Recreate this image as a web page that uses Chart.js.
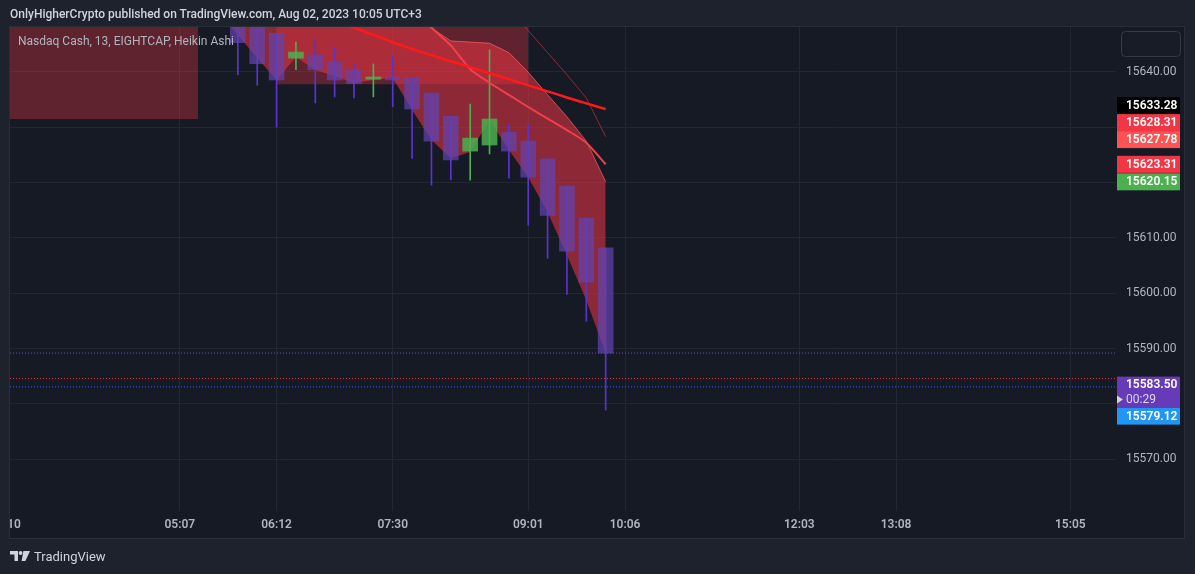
<!DOCTYPE html>
<html>
<head>
<meta charset="utf-8">
<script src="https://cdn.jsdelivr.net/npm/chart.js@4.4.1/dist/chart.umd.min.js"></script>
<style>
  html, body { margin: 0; padding: 0; background: #1e222d; overflow: hidden; }
  #wrap { position: relative; width: 1195px; height: 574px; }
  #c { position: absolute; left: 0; top: 0; }
  .txt { position: absolute; white-space: nowrap; font-family: Roboto, "Liberation Sans", sans-serif; z-index: 2; }
  #title { left: 10px; top: 7px; font-size: 12px; font-weight: 500; color: #d1d4dc; }
  #legend { left: 18px; top: 34px; font-size: 12px; color: #b2b5be; }
  #footer { left: 10px; top: 549px; font-size: 13px; color: #d1d4dc; display: flex; align-items: center; gap: 4px; }
</style>
</head>
<body>
<div id="wrap">
  <canvas id="c" width="1195" height="574"></canvas>
  <div class="txt" id="title">OnlyHigherCrypto published on TradingView.com, Aug 02, 2023 10:05 UTC+3</div>
  <div class="txt" id="legend">Nasdaq Cash, 13, EIGHTCAP, Heikin Ashi</div>
  <div class="txt" id="footer">
    <svg width="20" height="11" viewBox="0 0 20 11">
      <path d="M0 0h8v10H4.5V3.4H0z" fill="#d1d4dc"/>
      <circle cx="10.6" cy="2" r="1.9" fill="#d1d4dc"/>
      <path d="M13.4 0H20l-4.6 10h-3.8z" fill="#d1d4dc"/>
    </svg>
    <span>TradingView</span>
  </div>
</div>
<script>
// bars are counted in 13-minute steps, bar 0 = 05:07
var barIdx   = [3, 4, 5, 6, 7, 8, 9, 10, 11, 12, 13, 14, 15, 16, 17, 18, 19, 20, 21, 22];
var haOpen   = [15652, 15649, 15647, 15642.5, 15643.1, 15641.8, 15640.4, 15638.7, 15639.1, 15638.9, 15636.2, 15632.0, 15625.7, 15626.8, 15629.1, 15627.5, 15624.3, 15619.4, 15613.6, 15608.2];
var haHigh   = [15652, 15649, 15647, 15645.4, 15645.8, 15644.5, 15641.45, 15641.45, 15642.9, 15638.9, 15636.2, 15632.0, 15634.2, 15644.0, 15630.6, 15630.6, 15624.3, 15619.4, 15613.6, 15608.2];
var haLow    = [15639.5, 15637.6, 15630.05, 15640.4, 15634.4, 15635.5, 15635.3, 15635.5, 15633.7, 15624.4, 15619.55, 15620.5, 15620.45, 15625.2, 15620.8, 15612.3, 15606.3, 15599.8, 15594.95, 15578.9];
var haClose  = [15645.3, 15641.5, 15638.55, 15643.6, 15640.4, 15638.55, 15637.9, 15639.1, 15638.55, 15633.3, 15627.5, 15624.1, 15628.05, 15631.5, 15625.7, 15621.0, 15614.1, 15607.6, 15602.0, 15589.2];

var timeIdx    = [-9, 0, 5, 11, 18, 23, 32, 37, 46];
var timeLabels = ['03:10', '05:07', '06:12', '07:30', '09:01', '10:06', '12:03', '13:08', '15:05'];
var priceTicks = [15640, 15630, 15620, 15610, 15600, 15590, 15580, 15570];

var bandIdx   = [2, 3, 4, 5, 6, 7, 8, 9, 10, 11, 12, 13, 14, 15, 16, 17, 18, 19, 20, 21, 22];
var bandUpper = [15656, 15656, 15656, 15656, 15656, 15656, 15656, 15656, 15656, 15656, 15656, 15647.96, 15645.6, 15645.4, 15645.2, 15643.5, 15639.95, 15635.9, 15631.9, 15627.5, 15620.15];
var bandLower = [15650.86, 15646.7, 15642.53, 15638.55, 15642.71, 15640.36, 15639.28, 15638.01, 15638.55, 15638.91, 15633.12, 15627.69, 15624.43, 15625.52, 15631.31, 15625.88, 15620.99, 15614.66, 15606.88, 15598.73, 15589.2];

var slowIdx  = [8, 9, 10, 11, 12, 13, 14, 15, 16, 17, 18, 19, 20, 21, 22];
var slowMA   = [15649.3, 15648.02, 15646.7, 15645.38, 15644.16, 15643.02, 15641.94, 15640.87, 15639.78, 15638.7, 15637.59, 15636.49, 15635.4, 15634.32, 15633.28];
var fastIdx  = [12, 13, 14, 15, 16, 17, 18, 19, 20, 21, 22];
var fastMA   = [15651.9, 15648.04, 15644.8, 15640.51, 15638.06, 15635.85, 15633.67, 15631.56, 15629.5, 15627.23, 15623.31];
var outerIdx = [17, 18, 19, 20, 21, 22];
var outerLine = [15651.4, 15647.47, 15643.5, 15639.5, 15635.3, 15628.31];

var zoneFrom   = [-9, 5];
var zoneTo     = [0.95, 18];
var zoneBottom = [15631.5, 15637.8];

var levelValues = [15589.2, 15584.6, 15583.1];
var levelColors = ['#6a4cc4', '#f23645', '#2962ff'];

var tagValues = [15633.28, 15628.31, 15627.78, 15623.31, 15620.15, 15583.50, 15579.12];
var tagColors = ['#000000', '#f23645', '#ff5252', '#f23645', '#4caf50', '#673ab7', '#2196f3'];
var lastPrice = 15583.50;
var countdown = '00:29';

var xMin = -8.77, xMax = 48.36, yMin = 15560.66, yMax = 15648.13;

function pts(xs, ys) {
    return xs.map(function (x, k) { return { x: x, y: ys[k] }; });
}

var up = barIdx.map(function (x, k) { return haClose[k] >= haOpen[k]; });

var datasets = [];

// supply zones
zoneFrom.forEach(function (f, k) {
    datasets.push({
        type: 'line', data: [{ x: f, y: zoneBottom[k] }, { x: zoneTo[k], y: zoneBottom[k] }],
        fill: 'end', backgroundColor: 'rgba(242,54,69,0.33)', borderWidth: 0,
        pointRadius: 0, order: 10, clip: 0
    });
});

// band fill (upper -> lower)
datasets.push({
    type: 'line', data: pts(bandIdx, bandUpper), fill: '+1',
    backgroundColor: 'rgba(236,52,68,0.56)', borderColor: 'rgba(255,95,100,0.7)', borderWidth: 1,
    pointRadius: 0, tension: 0, order: 9, clip: 0
});
datasets.push({
    type: 'line', data: pts(bandIdx, bandLower), fill: false,
    borderWidth: 0, pointRadius: 0, order: 9, clip: 0
});

// dotted levels
levelValues.forEach(function (v, k) {
    datasets.push({
        type: 'line', data: [{ x: xMin, y: v }, { x: xMax, y: v }],
        borderColor: levelColors[k], borderWidth: 1, borderDash: [1, 2],
        pointRadius: 0, fill: false, order: 8, clip: 0
    });
});

// wicks
datasets.push({
    type: 'bar', data: barIdx.map(function (x, k) { return { x: x, y: [haLow[k], haHigh[k]] }; }),
    backgroundColor: up.map(function (u) { return u ? '#4caf50' : '#5b34d0'; }),
    barThickness: 1, grouped: false, order: 5, clip: 0
});
// bodies
datasets.push({
    type: 'bar', data: barIdx.map(function (x, k) { return { x: x, y: [haOpen[k], haClose[k]] }; }),
    backgroundColor: up.map(function (u) { return u ? 'rgba(76,175,80,0.85)' : 'rgba(98,67,177,0.7)'; }),
    barThickness: 15, minBarLength: 2, grouped: false, order: 4, clip: 0
});

datasets.push({
    type: 'line', data: pts(outerIdx, outerLine), borderColor: 'rgba(242,54,69,0.55)', borderWidth: 1,
    pointRadius: 0, fill: false, order: 3, clip: 0
});
datasets.push({
    type: 'line', data: pts(fastIdx, fastMA), borderColor: '#f23f4b', borderWidth: 2,
    pointRadius: 0, fill: false, tension: 0.2, order: 2, clip: 0
});
datasets.push({
    type: 'line', data: pts(slowIdx, slowMA), borderColor: '#ff1a1a', borderWidth: 2.5,
    pointRadius: 0, fill: false, tension: 0.2, order: 1, clip: 0
});

var chrome = {
    id: 'chrome',
    beforeDraw: function (chart) {
        var ctx = chart.ctx, a = chart.chartArea;
        var right = chart.scales.y.right, bottom = chart.scales.x.bottom;
        ctx.save();
        ctx.fillStyle = '#1e222d';
        ctx.fillRect(0, 0, chart.width, chart.height);
        ctx.fillStyle = '#161a25';
        ctx.fillRect(a.left, a.top, right - a.left, bottom - a.top);
        ctx.strokeStyle = '#2a2e39';
        ctx.lineWidth = 1;
        ctx.strokeRect(a.left - 0.5, a.top - 0.5, right - a.left + 1, bottom - a.top + 1);
        ctx.restore();
    },
    afterDraw: function (chart) {
        var ctx = chart.ctx, a = chart.chartArea;
        var ys = chart.scales.y, xs = chart.scales.x;
        ctx.save();

        // time labels left of the visible range, cut at the pane edge
        ctx.beginPath();
        ctx.rect(a.left, xs.top, a.right - a.left, xs.bottom - xs.top);
        ctx.clip();
        ctx.font = '600 12px Roboto';
        ctx.fillStyle = '#b2b5be';
        ctx.textAlign = 'center';
        ctx.textBaseline = 'middle';
        timeIdx.forEach(function (v, k) {
            if (v < xMin) ctx.fillText(timeLabels[k], xs.getPixelForValue(v), xs.top + 13.5);
        });
        ctx.restore();

        // price tags
        var tx = ys.left + 1, tw = 63, th = 17;
        var boxes = tagValues.map(function (v, k) {
            var cy = ys.getPixelForValue(v);
            if (v === lastPrice) return { v: v, k: k, top: cy - 8, h: 31, last: true };
            return { v: v, k: k, top: cy - th / 2, h: th };
        });
        var anchor = boxes.filter(function (b) { return b.last; })[0];
        var above = boxes.filter(function (b) { return b.v > lastPrice; }).sort(function (p, q) { return p.v - q.v; });
        var below = boxes.filter(function (b) { return b.v < lastPrice; }).sort(function (p, q) { return q.v - p.v; });
        var lim = anchor.top;
        above.forEach(function (b) {
            if (b.top + b.h > lim) b.top = lim - b.h;
            lim = b.top;
        });
        lim = anchor.top + anchor.h;
        below.forEach(function (b) {
            if (b.top < lim) b.top = lim;
            lim = b.top + b.h;
        });
        ctx.save();
        ctx.textBaseline = 'middle';
        ctx.textAlign = 'left';
        boxes.forEach(function (b) {
            ctx.fillStyle = tagColors[b.k];
            ctx.fillRect(tx, b.top, tw, b.h);
            ctx.fillStyle = '#ffffff';
            ctx.font = '600 12px Roboto';
            if (b.last) {
                ctx.fillText(b.v.toFixed(2), tx + 9, b.top + 8.5);
                ctx.fillStyle = '#ddd6f3';
                ctx.font = '12px Roboto';
                ctx.fillText(countdown, tx + 9, b.top + 23);
                ctx.fillStyle = '#d1d4dc';
                ctx.beginPath();
                ctx.moveTo(tx, b.top + 19);
                ctx.lineTo(tx + 6, b.top + 23);
                ctx.lineTo(tx, b.top + 27);
                ctx.closePath();
                ctx.fill();
            } else {
                ctx.fillText(b.v.toFixed(2), tx + 9, b.top + b.h / 2 + 0.5);
            }
        });

        // settings button in the corner
        var bx = ys.left + 5, by = a.top + 4;
        ctx.beginPath();
        ctx.roundRect(bx + 0.5, by + 0.5, 59, 25, 4);
        ctx.fillStyle = '#181c27';
        ctx.fill();
        ctx.strokeStyle = '#363a45';
        ctx.stroke();
        ctx.restore();
    }
};

new Chart(document.getElementById('c'), {
    type: 'bar',
    data: { datasets: datasets },
    options: {
        responsive: false,
        animation: false,
        events: [],
        layout: { padding: { left: 10, top: 27, right: 11, bottom: 36 } },
        plugins: { legend: { display: false }, tooltip: { enabled: false } },
        scales: {
            x: {
                type: 'linear', min: xMin, max: xMax, offset: false,
                afterBuildTicks: function (s) {
                    s.ticks = timeIdx.filter(function (v) { return v >= xMin; }).map(function (v) { return { value: v }; });
                },
                afterFit: function (s) { s.height = 27; },
                grid: { color: '#232733', drawTicks: false, offset: false },
                border: { display: false },
                ticks: {
                    autoSkip: false, maxRotation: 0, padding: 7, color: '#b2b5be',
                    font: { family: 'Roboto', size: 12, weight: '600' },
                    callback: function (v) { return timeLabels[timeIdx.indexOf(v)]; }
                }
            },
            y: {
                type: 'linear', position: 'right', min: yMin, max: yMax,
                afterBuildTicks: function (s) {
                    s.ticks = priceTicks.map(function (v) { return { value: v }; });
                },
                afterFit: function (s) { s.width = 68; },
                grid: { color: '#232733', drawTicks: false },
                border: { display: false },
                ticks: {
                    padding: 10, color: '#b2b5be',
                    font: { family: 'Roboto', size: 12 },
                    callback: function (v) { return v.toFixed(2); }
                }
            }
        }
    },
    plugins: [chrome]
});
</script>
</body>
</html>
